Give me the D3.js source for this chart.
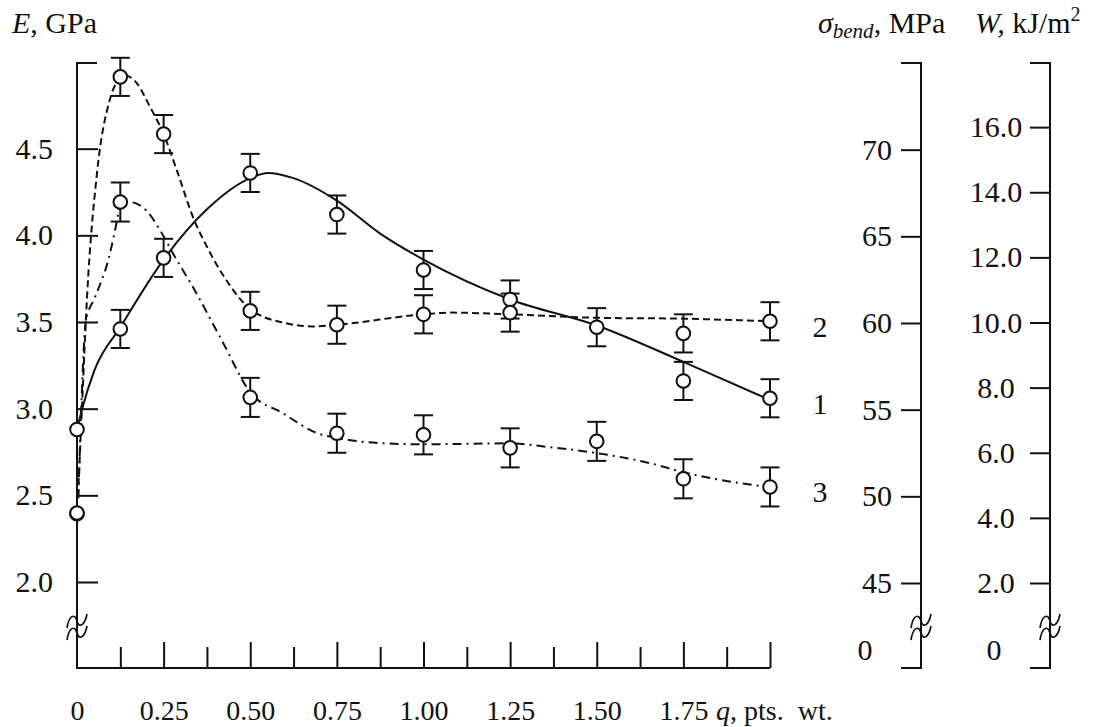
<!DOCTYPE html>
<html lang="en">
<head>
<meta charset="UTF-8">
<title>E, sigma bend and W versus q</title>
<script src="https://d3js.org/d3.v7.min.js"></script>
<style>
  body { margin: 0; background: #fff; }
  svg { display: block; font-family: 'Liberation Serif', 'Times New Roman', serif; }
  .tick text, .lbl { font-size: 30px; fill: #111; }
  .xlab .tick text { font-size: 28px; }
  .axis path.domain { display: none; }
  .axis line { stroke: #111; stroke-width: 2; }
</style>
</head>
<body>
<svg id="chart" width="1104" height="727"></svg>
<script>
// x axis: q, pts. wt.
const qLabels = [0, 0.25, 0.5, 0.75, 1.0, 1.25, 1.5, 1.75];
const qMajor = [0.25, 0.5, 0.75, 1.0, 1.25, 1.5, 1.75, 2.0];
const qMinor = [0.125, 0.375, 0.625, 0.875, 1.125, 1.375, 1.625, 1.875];

// axis ticks
const eTicks = [2.0, 2.5, 3.0, 3.5, 4.0, 4.5];
const sTicks = [45, 50, 55, 60, 65, 70];
const wTicks = [2, 4, 6, 8, 10, 12, 14, 16];

// curve 1 (solid) - E, GPa
const q1 = [0, 0.125, 0.25, 0.5, 0.75, 1.0, 1.25, 1.5, 1.75, 2.0];
const E1 = [2.88, 3.46, 3.87, 4.36, 4.12, 3.80, 3.63, 3.47, 3.16, 3.06];
const E1err = [0, 0.11, 0.11, 0.11, 0.11, 0.11, 0.11, 0.11, 0.11, 0.11];
const fit1Q = [0, 0.015, 0.05, 0.125, 0.25, 0.375, 0.5, 0.55, 0.625, 0.75, 0.875, 1.0, 1.25, 1.5, 1.75, 2.0];
const fit1E = [2.88, 3.0, 3.22, 3.47, 3.86, 4.15, 4.33, 4.36, 4.33, 4.20, 4.01, 3.86, 3.63, 3.48, 3.27, 3.05];

// curve 2 (dashed) - sigma bend, MPa
const q2 = [0, 0.125, 0.25, 0.5, 0.75, 1.0, 1.25, 1.75, 2.0];
const S2 = [49.0, 74.2, 70.9, 60.7, 59.9, 60.5, 60.6, 59.4, 60.1];
const S2err = [0, 1.1, 1.1, 1.1, 1.1, 1.1, 1.1, 1.1, 1.1];
const fit2Q = [0.003, 0.014, 0.029, 0.058, 0.095, 0.118, 0.135, 0.17, 0.21, 0.25, 0.29, 0.335, 0.375, 0.43, 0.5, 0.6, 0.68, 0.75, 1.0, 1.08, 1.25, 1.5, 1.75, 2.0];
const fit2S = [50.0, 55.0, 61.5, 68.7, 72.9, 74.0, 74.3, 73.9, 72.5, 70.9, 68.7, 66.1, 64.4, 62.5, 60.8, 60.0, 59.8, 59.9, 60.5, 60.6, 60.5, 60.3, 60.25, 60.1];

// curve 3 (dash-dot) - W, kJ/m2
const q3 = [0, 0.125, 0.5, 0.75, 1.0, 1.25, 1.5, 1.75, 2.0];
const W3 = [4.15, 13.7, 7.7, 6.6, 6.55, 6.15, 6.35, 5.2, 4.95];
const W3err = [0, 0.6, 0.6, 0.6, 0.6, 0.6, 0.6, 0.6, 0.6];
const fit3Q = [0.004, 0.012, 0.026, 0.052, 0.095, 0.118, 0.125, 0.16, 0.2, 0.24, 0.277, 0.335, 0.418, 0.5, 0.595, 0.693, 0.753, 0.883, 1.0, 1.247, 1.365, 1.5, 1.654, 1.75, 2.0];
const fit3W = [4.6, 7.3, 10.07, 10.77, 12.12, 13.29, 13.72, 13.69, 13.44, 12.83, 12.12, 11.08, 9.45, 7.86, 7.21, 6.6, 6.45, 6.29, 6.26, 6.29, 6.17, 5.99, 5.68, 5.4, 4.94];

const svg = d3.select("#chart");
const ink = "#111";

const x = d3.scaleLinear().domain([0, 2]).range([77, 770]);
const yE = d3.scaleLinear().domain([2.0, 5.0]).range([582, 62]);
const yS = d3.scaleLinear().domain([45, 75]).range([583, 63]);
const yW = d3.scaleLinear().domain([2, 18]).range([583, 62]);
const yZero = 668, yBreak = 627;
const axS = 921, axW = 1050;

// axis lines and brackets
function frame(ax, dir) {
    svg.append("line").attr("x1", ax).attr("x2", ax).attr("y1", 62).attr("y2", yZero)
        .attr("stroke", ink).attr("stroke-width", 2);
    svg.append("line").attr("x1", ax).attr("x2", ax + dir * 20).attr("y1", 63).attr("y2", 63)
        .attr("stroke", ink).attr("stroke-width", 2);
    // break mark
    [-6, 6].forEach(o => {
        const cy = yBreak + o;
        svg.append("path")
            .attr("d", `M${ax - 10},${cy + 7} C${ax - 8},${cy - 6} ${ax - 2},${cy - 8} ${ax},${cy} S${ax + 8},${cy + 4} ${ax + 10},${cy - 7}`)
            .attr("fill", "none").attr("stroke", ink).attr("stroke-width", 1.7);
    });
}
frame(x(0), 1);
frame(axS, -1);
frame(axW, -1);
// bottom brackets of right axes
[axS, axW].forEach(ax => {
    svg.append("line").attr("x1", ax - 20).attr("x2", ax + 1).attr("y1", yZero).attr("y2", yZero)
        .attr("stroke", ink).attr("stroke-width", 2);
});

const plain = g => g.attr("font-family", null).attr("font-size", null);

// bottom axis
svg.append("line").attr("x1", x(0) - 1).attr("x2", x(2)).attr("y1", yZero).attr("y2", yZero)
    .attr("stroke", ink).attr("stroke-width", 2);
svg.append("g").attr("class", "axis").attr("transform", `translate(0,${yZero})`)
    .call(d3.axisBottom(x).tickValues(qMajor).tickSizeInner(-26).tickSizeOuter(0).tickFormat(""));
svg.append("g").attr("class", "axis").attr("transform", `translate(0,${yZero})`)
    .call(d3.axisBottom(x).tickValues(qMinor).tickSizeInner(-21).tickSizeOuter(0).tickFormat(""));
svg.append("g").attr("class", "axis xlab").attr("transform", `translate(0,${yZero})`)
    .call(d3.axisBottom(x).tickValues(qLabels).tickSize(0).tickPadding(32)
        .tickFormat(d => d === 0 ? "0" : d3.format(".2f")(d)))
    .call(plain);

// left axis E
svg.append("g").attr("class", "axis").attr("transform", `translate(${x(0)},0)`)
    .call(d3.axisLeft(yE).tickValues(eTicks).tickSizeInner(-21).tickSizeOuter(0).tickPadding(24)
        .tickFormat(d3.format(".1f")))
    .call(plain);

// sigma axis
svg.append("g").attr("class", "axis").attr("transform", `translate(${axS},0)`)
    .call(d3.axisLeft(yS).tickValues(sTicks).tickSizeInner(20).tickSizeOuter(0).tickPadding(9)
        .tickFormat(d3.format("d")))
    .call(plain);

// W axis
svg.append("g").attr("class", "axis").attr("transform", `translate(${axW},0)`)
    .call(d3.axisLeft(yW).tickValues(wTicks).tickSizeInner(20).tickSizeOuter(0).tickPadding(0)
        .tickFormat(d3.format(".1f")))
    .call(plain)
    .call(g => g.selectAll("text").attr("text-anchor", "middle").attr("x", -54));

// zero labels below the breaks
svg.append("text").attr("class", "lbl").attr("x", 865).attr("y", 660).attr("text-anchor", "middle").text("0");
svg.append("text").attr("class", "lbl").attr("x", 994).attr("y", 660).attr("text-anchor", "middle").text("0");

// titles
const t1 = svg.append("text").attr("class", "lbl").attr("x", 12).attr("y", 33);
t1.append("tspan").attr("font-style", "italic").text("E");
t1.append("tspan").text(", GPa");

const t2 = svg.append("text").attr("class", "lbl").attr("x", 818).attr("y", 33);
t2.append("tspan").attr("font-style", "italic").text("σ");
t2.append("tspan").attr("font-style", "italic").attr("font-size", "21px").attr("dy", 5).text("bend");
t2.append("tspan").attr("dy", -5).text(", MPa");

const t3 = svg.append("text").attr("class", "lbl").attr("x", 975).attr("y", 33);
t3.append("tspan").attr("font-style", "italic").text("W,");
t3.append("tspan").text(" kJ/m");
t3.append("tspan").attr("font-size", "20px").attr("dy", -12).text("2");

const t4 = svg.append("text").attr("class", "lbl").attr("x", 716).attr("y", 720)
    .attr("font-size", "28px").style("font-size", "28px").attr("xml:space", "preserve");
t4.append("tspan").attr("font-style", "italic").text("q");
t4.append("tspan").text(", pts.  wt.");

// curve labels
[["2", yS(S2[S2.length - 1])], ["1", yE(E1[E1.length - 1])], ["3", yW(W3[W3.length - 1])]].forEach(([t, yy]) => {
    svg.append("text").attr("class", "lbl").attr("x", 820).attr("y", yy + 5)
        .attr("text-anchor", "middle").attr("dominant-baseline", "central").text(t);
});

// fitted curves
const curves = [
    { qs: fit1Q, vs: fit1E, y: yE, dash: null },
    { qs: fit2Q, vs: fit2S, y: yS, dash: "7,4" },
    { qs: fit3Q, vs: fit3W, y: yW, dash: "9,5,2,5" }
];
curves.forEach(c => {
    const line = d3.line().x((d, i) => x(c.qs[i])).y(d => c.y(d)).curve(d3.curveMonotoneX);
    svg.append("path").attr("d", line(c.vs))
        .attr("fill", "none").attr("stroke", ink).attr("stroke-width", 2)
        .attr("stroke-dasharray", c.dash);
});

// measured points with error bars
const series = [
    { qs: q1, vs: E1, err: E1err, y: yE },
    { qs: q2, vs: S2, err: S2err, y: yS },
    { qs: q3, vs: W3, err: W3err, y: yW }
];
series.forEach(s => {
    s.vs.forEach((v, i) => {
        if (s.err[i] > 0) {
            const cx = x(s.qs[i]), top = s.y(v + s.err[i]), bot = s.y(v - s.err[i]);
            const g = svg.append("g").attr("stroke", ink).attr("stroke-width", 2);
            g.append("line").attr("x1", cx).attr("x2", cx).attr("y1", top).attr("y2", bot);
            g.append("line").attr("x1", cx - 9.5).attr("x2", cx + 9.5).attr("y1", top).attr("y2", top);
            g.append("line").attr("x1", cx - 9.5).attr("x2", cx + 9.5).attr("y1", bot).attr("y2", bot);
        }
    });
});
series.forEach(s => {
    s.vs.forEach((v, i) => {
        svg.append("circle").attr("cx", x(s.qs[i])).attr("cy", s.y(v)).attr("r", 6.8)
            .attr("fill", "#fff").attr("stroke", ink).attr("stroke-width", 2);
    });
});
</script>
</body>
</html>
